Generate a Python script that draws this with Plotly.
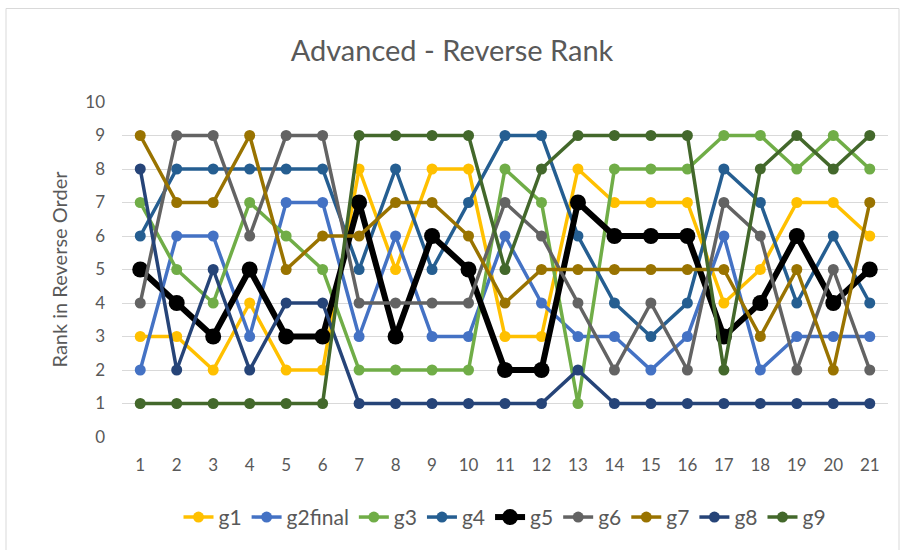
import plotly.graph_objects as go

# Match rounds 1..21
rounds = list(range(1, 22))

# Reverse rank of each group per round
g1 = [3, 3, 2, 4, 2, 2, 8, 5, 8, 8, 3, 3, 8, 7, 7, 7, 4, 5, 7, 7, 6]
g2final = [2, 6, 6, 3, 7, 7, 3, 6, 3, 3, 6, 4, 3, 3, 2, 3, 6, 2, 3, 3, 3]
g3 = [7, 5, 4, 7, 6, 5, 2, 2, 2, 2, 8, 7, 1, 8, 8, 8, 9, 9, 8, 9, 8]
g4 = [6, 8, 8, 8, 8, 8, 5, 8, 5, 7, 9, 9, 6, 4, 3, 4, 8, 7, 4, 6, 4]
g5 = [5, 4, 3, 5, 3, 3, 7, 3, 6, 5, 2, 2, 7, 6, 6, 6, 3, 4, 6, 4, 5]
g6 = [4, 9, 9, 6, 9, 9, 4, 4, 4, 4, 7, 6, 4, 2, 4, 2, 7, 6, 2, 5, 2]
g7 = [9, 7, 7, 9, 5, 6, 6, 7, 7, 6, 4, 5, 5, 5, 5, 5, 5, 3, 5, 2, 7]
g8 = [8, 2, 5, 2, 4, 4, 1, 1, 1, 1, 1, 1, 2, 1, 1, 1, 1, 1, 1, 1, 1]
g9 = [1, 1, 1, 1, 1, 1, 9, 9, 9, 9, 5, 8, 9, 9, 9, 9, 2, 8, 9, 8, 9]

y_ticks = list(range(0, 11))

series = [
    ("g1", g1, "#FFC000", 3.5, 11),
    ("g2final", g2final, "#4472C4", 3.5, 11),
    ("g3", g3, "#70AD47", 3.5, 11),
    ("g4", g4, "#255E91", 3.5, 11),
    ("g5", g5, "#000000", 6, 16),
    ("g6", g6, "#636363", 3.5, 11),
    ("g7", g7, "#997300", 3.5, 11),
    ("g8", g8, "#264478", 3.5, 11),
    ("g9", g9, "#43682B", 3.5, 11),
]

fig = go.Figure()
for name, vals, color, width, msize in series:
    fig.add_trace(go.Scatter(
        x=rounds, y=vals, name=name, mode="lines+markers",
        line=dict(color=color, width=width),
        marker=dict(color=color, size=msize, symbol="circle"),
    ))

font_family = "Lato, 'Open Sans', sans-serif"
text_color = "#595959"

fig.update_layout(
    width=904, height=550,
    paper_bgcolor="white", plot_bgcolor="white",
    margin=dict(l=122, r=16, t=102, b=113),
    font=dict(family=font_family, color=text_color, size=17),
    title=dict(text="Advanced - Reverse Rank", x=0.5, xanchor="center",
               y=1 - 51 / 550, yanchor="middle",
               font=dict(size=29, color=text_color, family=font_family)),
    xaxis=dict(
        range=[0.5, 21.5], tickmode="array", tickvals=rounds,
        ticktext=[str(r) for r in rounds], showgrid=False, zeroline=False,
        showline=False, ticks="", ticklabelstandoff=16,
        tickfont=dict(size=17, color=text_color),
    ),
    yaxis=dict(
        range=[0, 10], tickmode="array", tickvals=y_ticks,
        showgrid=True, gridcolor="#D9D9D9", gridwidth=1, zeroline=False,
        showline=False, ticks="", ticklabelstandoff=16,
        tickfont=dict(size=17, color=text_color),
        title=dict(text="Rank in Reverse Order", standoff=12,
                   font=dict(size=20, color=text_color)),
    ),
    legend=dict(orientation="h", x=0.5, xanchor="center", y=-0.24,
                yanchor="middle", font=dict(size=21, color=text_color),
                itemwidth=30, tracegroupgap=0, traceorder="normal"),
    showlegend=True,
)

# Chart area border
fig.add_shape(type="rect", xref="paper", yref="paper",
              x0=(6 - 122) / 766, x1=(899 - 122) / 766,
              y0=(437 - 560) / 335, y1=(437 - 8.5) / 335,
              line=dict(color="#D9D9D9", width=1), layer="below")

fig.write_html("out.html")
